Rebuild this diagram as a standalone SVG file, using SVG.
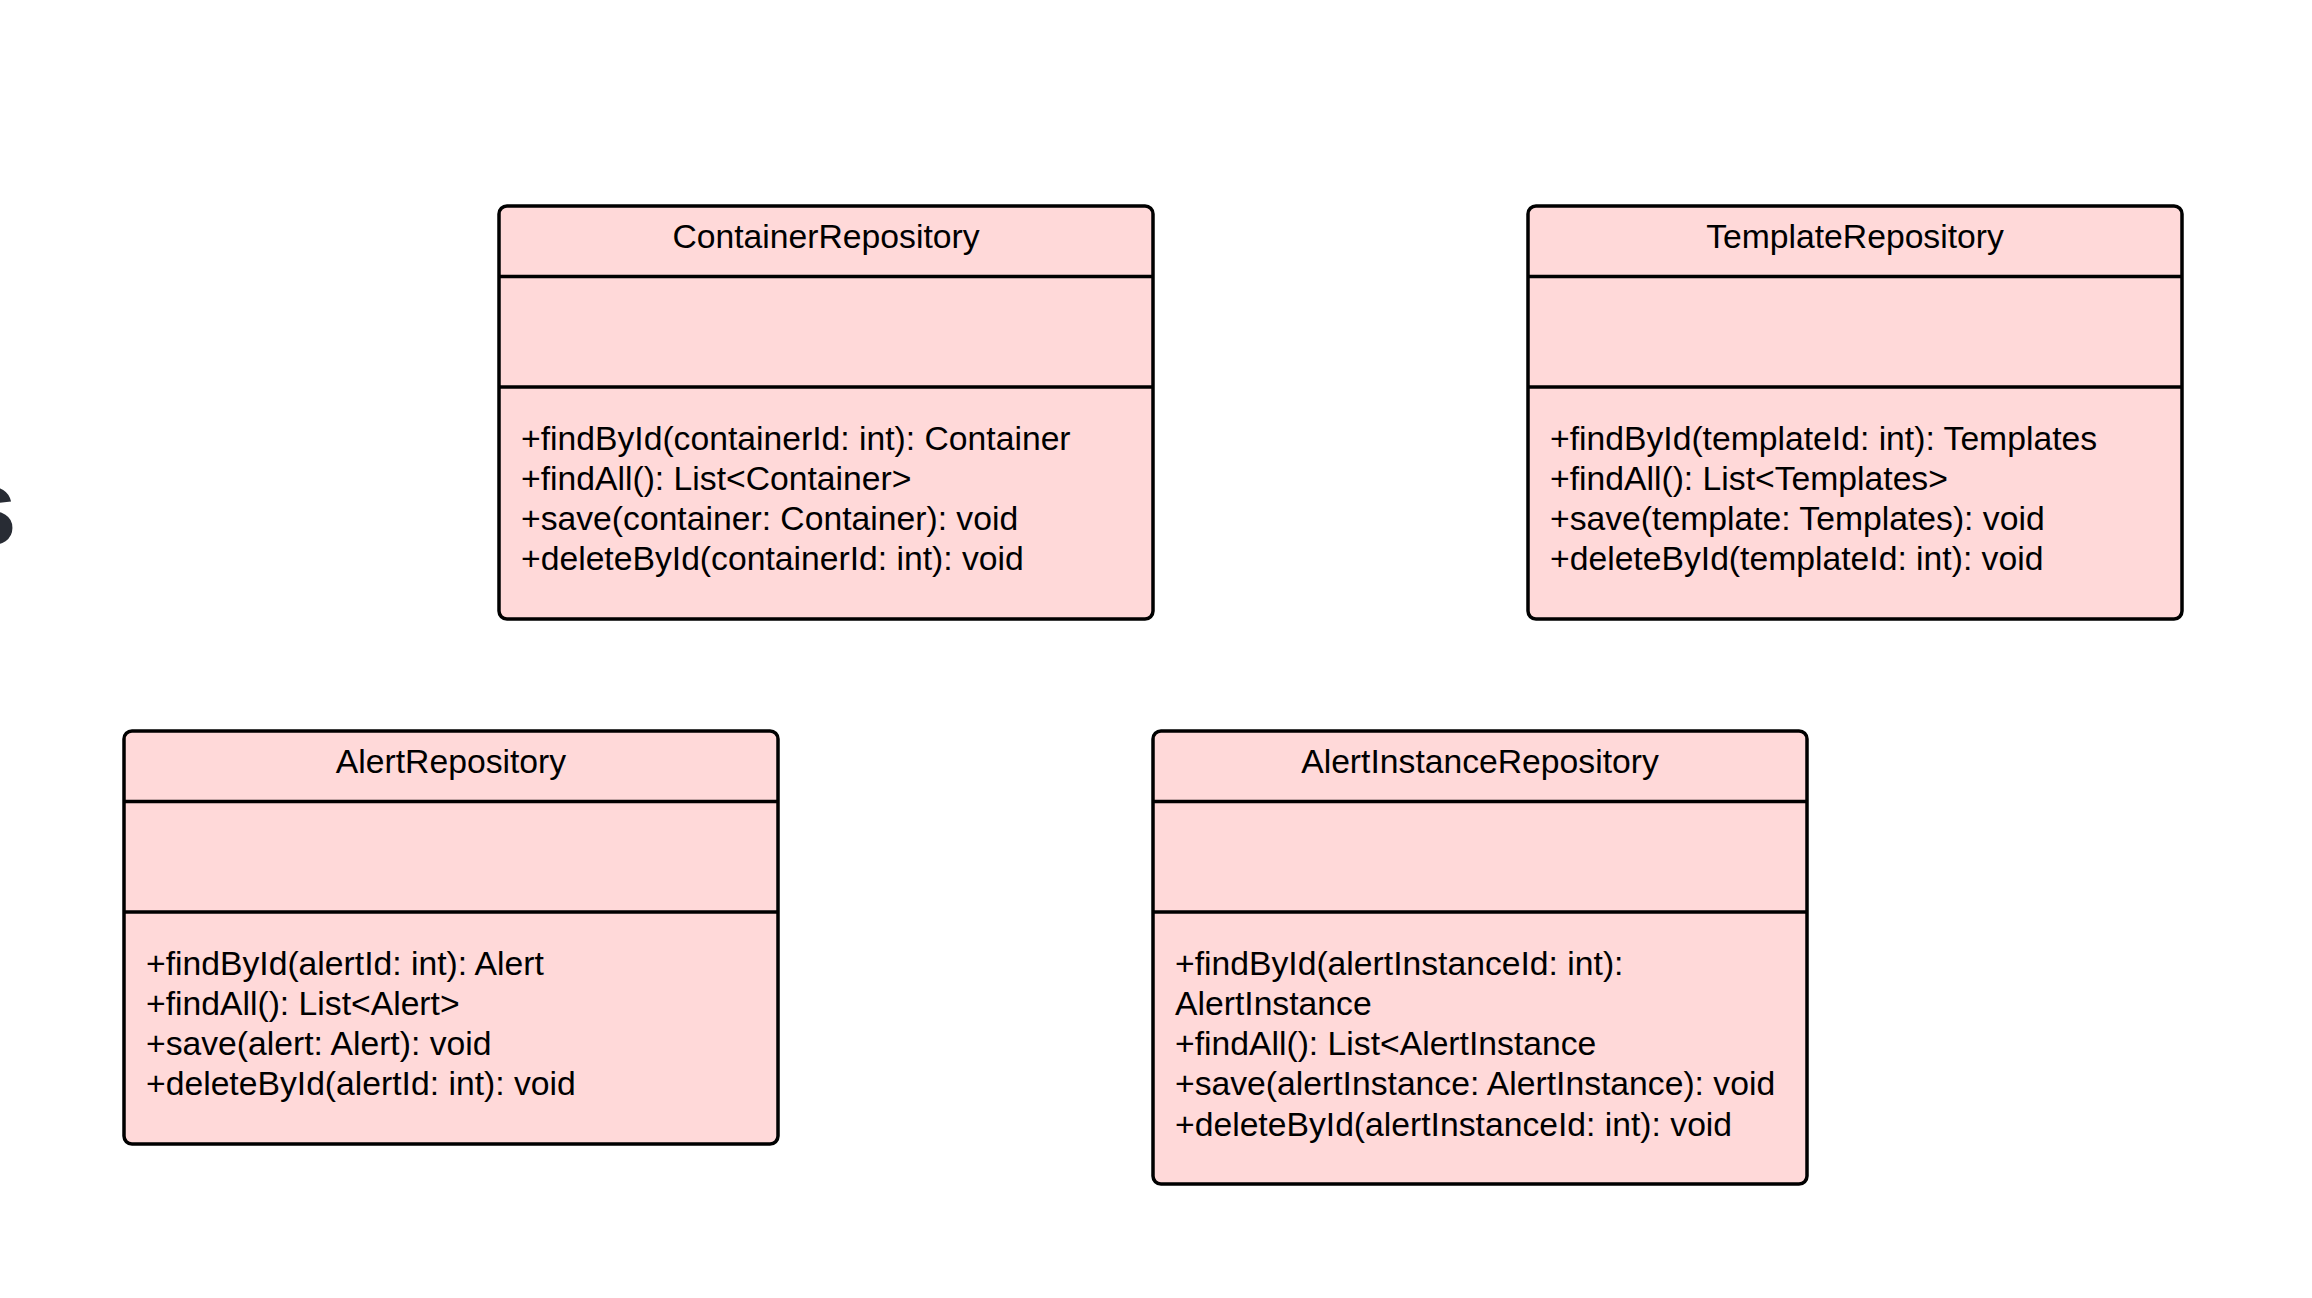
<svg xmlns="http://www.w3.org/2000/svg" width="2312" height="1298" viewBox="0 0 2312 1298">
<style>
.box{fill:#ffd9d9;stroke:#000;stroke-width:3.5}
.sep{stroke:#000;stroke-width:3.5}
.t{font-family:"Liberation Sans",Arial,sans-serif;font-size:33.7px;fill:#000}
.c{text-anchor:middle}
.big{font-family:"Liberation Sans",Arial,sans-serif;font-size:110px;font-weight:bold;fill:#282c34}
</style>
<rect width="2312" height="1298" fill="#fff"/>
<text class="big" x="17" y="545" text-anchor="end">s</text>
<g id="connectors"/>
<g id="ContainerRepository">
<rect class="box" x="499" y="206" width="654" height="413" rx="8"/>
<line class="sep" x1="499" y1="276.5" x2="1153" y2="276.5"/>
<line class="sep" x1="499" y1="387" x2="1153" y2="387"/>
<text class="t c" x="826" y="248">ContainerRepository</text>
<text class="t" x="521" y="449.5">+findById(containerId: int): Container</text>
<text class="t" x="521" y="489.8">+findAll(): List&lt;Container&gt;</text>
<text class="t" x="521" y="530.1">+save(container: Container): void</text>
<text class="t" x="521" y="570.4">+deleteById(containerId: int): void</text>
</g>
<g id="TemplateRepository">
<rect class="box" x="1528" y="206" width="654" height="413" rx="8"/>
<line class="sep" x1="1528" y1="276.5" x2="2182" y2="276.5"/>
<line class="sep" x1="1528" y1="387" x2="2182" y2="387"/>
<text class="t c" x="1855" y="248">TemplateRepository</text>
<text class="t" x="1550" y="449.5">+findById(templateId: int): Templates</text>
<text class="t" x="1550" y="489.8">+findAll(): List&lt;Templates&gt;</text>
<text class="t" x="1550" y="530.1">+save(template: Templates): void</text>
<text class="t" x="1550" y="570.4">+deleteById(templateId: int): void</text>
</g>
<g id="AlertRepository">
<rect class="box" x="124" y="731" width="654" height="413" rx="8"/>
<line class="sep" x1="124" y1="801.5" x2="778" y2="801.5"/>
<line class="sep" x1="124" y1="912" x2="778" y2="912"/>
<text class="t c" x="451" y="773">AlertRepository</text>
<text class="t" x="146" y="974.5">+findById(alertId: int): Alert</text>
<text class="t" x="146" y="1014.8">+findAll(): List&lt;Alert&gt;</text>
<text class="t" x="146" y="1055.1">+save(alert: Alert): void</text>
<text class="t" x="146" y="1095.4">+deleteById(alertId: int): void</text>
</g>
<g id="AlertInstanceRepository">
<rect class="box" x="1153" y="731" width="654" height="453" rx="8"/>
<line class="sep" x1="1153" y1="801.5" x2="1807" y2="801.5"/>
<line class="sep" x1="1153" y1="912" x2="1807" y2="912"/>
<text class="t c" x="1480" y="773">AlertInstanceRepository</text>
<text class="t" x="1175" y="974.5">+findById(alertInstanceId: int):</text>
<text class="t" x="1175" y="1014.8">AlertInstance</text>
<text class="t" x="1175" y="1055.1">+findAll(): List&lt;AlertInstance</text>
<text class="t" x="1175" y="1095.4">+save(alertInstance: AlertInstance): void</text>
<text class="t" x="1175" y="1135.7">+deleteById(alertInstanceId: int): void</text>
</g>
</svg>
